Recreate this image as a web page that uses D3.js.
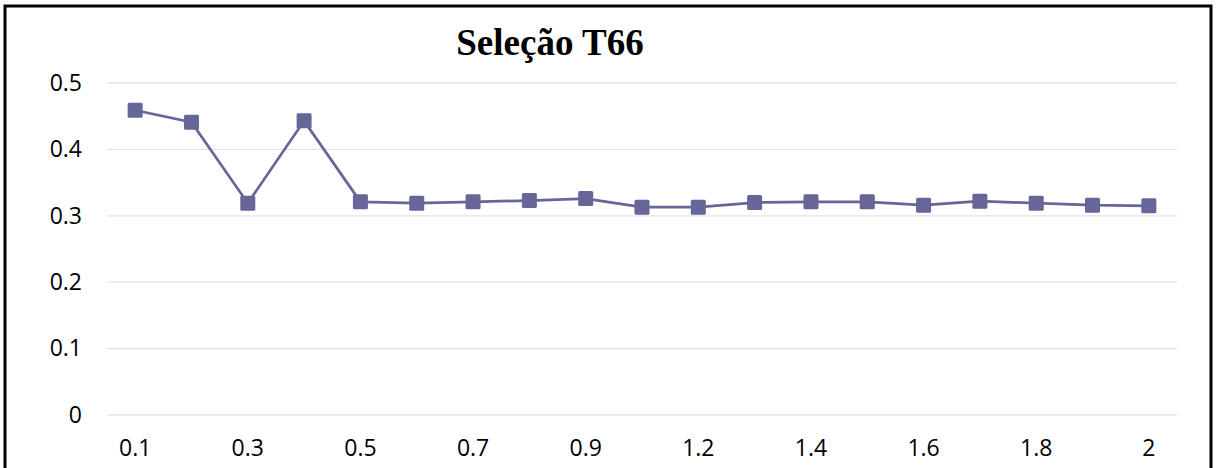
<!DOCTYPE html>
<html>
<head>
<meta charset="utf-8">
<script src="https://cdn.jsdelivr.net/npm/d3@7"></script>
<style>
  html, body { margin: 0; padding: 0; background: #fff; }
  svg { display: block; }
</style>
</head>
<body>
<svg id="chart" width="1216" height="468"></svg>
<script>
const title = "Seleção T66";
const categories = ["0.1","0.2","0.3","0.4","0.5","0.6","0.7","0.8","0.9","1","1.2","1.3","1.4","1.5","1.6","1.7","1.8","1.9","2"];
const values = [0.459, 0.441, 0.319, 0.443, 0.321, 0.319, 0.321, 0.323, 0.326, 0.313, 0.313, 0.320, 0.321, 0.321, 0.316, 0.322, 0.319, 0.316, 0.315];
const yTicks = [0, 0.1, 0.2, 0.3, 0.4, 0.5];
const xLabelEvery = 2;

const color = "#666699";
const svg = d3.select("#chart");
const W = 1216, H = 468;
const m = { left: 107, right: 1177, top: 83, bottom: 415 };

// outer border
svg.append("rect")
  .attr("x", 5).attr("y", 6)
  .attr("width", 1206).attr("height", 480)
  .attr("fill", "none").attr("stroke", "#000").attr("stroke-width", 3);

const x = d3.scaleBand().domain(categories).range([m.left, m.right]).padding(0);
const y = d3.scaleLinear().domain([0, 0.5]).range([m.bottom, m.top]);

// gridlines
svg.append("g")
  .selectAll("line").data(yTicks).join("line")
  .attr("x1", m.left).attr("x2", m.right)
  .attr("y1", d => y(d)).attr("y2", d => y(d))
  .attr("stroke", "#e4e4e4").attr("stroke-width", 1.3);

// y axis
const yAxis = svg.append("g")
  .attr("transform", `translate(${m.left},0)`)
  .call(d3.axisLeft(y).tickValues(yTicks).tickSize(0).tickPadding(25).tickFormat(d => d3.format("")(+d.toFixed(1))));
yAxis.select(".domain").remove();
yAxis.selectAll("text")
  .attr("font-family", "'Open Sans', sans-serif").attr("font-size", 23).attr("fill", "#000");

// x axis
const xAxis = svg.append("g")
  .attr("transform", `translate(0,${m.bottom})`)
  .call(d3.axisBottom(x).tickSize(0).tickPadding(25)
    .tickFormat((d, i) => i % xLabelEvery === 0 ? d : ""));
xAxis.select(".domain").remove();
xAxis.selectAll("text")
  .attr("font-family", "'Open Sans', sans-serif").attr("font-size", 23).attr("fill", "#000");

// line
const line = d3.line()
  .x((d, i) => x(categories[i]) + x.bandwidth() / 2)
  .y(d => y(d));
svg.append("path")
  .datum(values)
  .attr("d", line)
  .attr("fill", "none").attr("stroke", color).attr("stroke-width", 2.75);

// markers
const ms = 15;
svg.append("g").selectAll("rect").data(values).join("rect")
  .attr("x", (d, i) => x(categories[i]) + x.bandwidth() / 2 - ms / 2)
  .attr("y", d => y(d) - ms / 2)
  .attr("width", ms).attr("height", ms)
  .attr("rx", 1.5)
  .attr("fill", color);

// title
svg.append("text")
  .attr("x", 550).attr("y", 55)
  .attr("text-anchor", "middle")
  .attr("font-family", "'Liberation Serif', 'Times New Roman', serif")
  .attr("font-weight", "bold").attr("font-size", 37)
  .attr("fill", "#000")
  .text(title);
</script>
</body>
</html>
